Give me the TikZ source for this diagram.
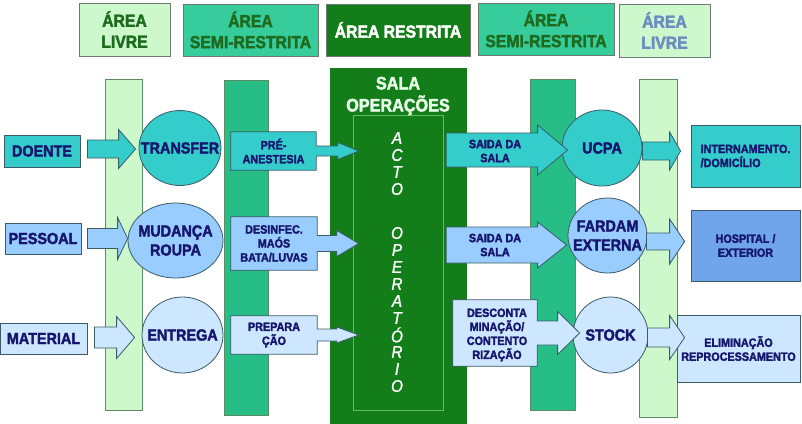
\documentclass[tikz,border=0pt]{standalone}
\usepackage{fontspec}
\setmainfont{Liberation Sans Bold}[FakeStretch=0.9, FakeBold=2.2]
\newfontfamily\italico{Liberation Sans Italic}[FakeStretch=0.9, FakeBold=1.5]
\usetikzlibrary{positioning}
\usetikzlibrary{calc}
\usetikzlibrary{shapes.geometric}

\definecolor{livre}{HTML}{CCF8CC}
\definecolor{semicol}{HTML}{26BE86}
\definecolor{semicab}{HTML}{36CC9C}
\definecolor{restrita}{HTML}{137D19}
\definecolor{turq}{HTML}{35CCCC}
\definecolor{azul}{HTML}{99CCFF}
\definecolor{azulesc}{HTML}{70A5EC}
\definecolor{azulcl}{HTML}{CCE7FF}
\definecolor{texto}{HTML}{16166E}
\definecolor{borda}{HTML}{3B5B66}
\definecolor{cabborda}{HTML}{6E7A70}
\definecolor{colborda}{HTML}{5E8A66}
\definecolor{verdetx}{HTML}{1E6B1E}
\definecolor{azultx}{HTML}{6A8CC0}
\definecolor{salalinha}{HTML}{5FBF5F}
\definecolor{salatx}{HTML}{EAFFEA}

\newcommand{\fbig}{\fontsize{16}{19}\selectfont}
\newcommand{\fsmall}{\fontsize{12}{14}\selectfont}
\newcommand{\fhead}{\fontsize{17.5}{21}\selectfont}

% block arrow: style, start, tip, shaft half, head half, head length
\newcommand{\blkarrow}[6]{%
\filldraw[#1] let \p1=(#2), \p2=(#3) in
 (\x1,\y1+#4pt) -- (\x2-#6pt,\y1+#4pt) -- (\x2-#6pt,\y1+#5pt) -- (\x2,\y1)
 -- (\x2-#6pt,\y1-#5pt) -- (\x2-#6pt,\y1-#4pt) -- (\x1,\y1-#4pt) -- cycle;}
% box with arrow: style, box node, tip, shaft half, head half, head length
\newcommand{\callout}[6]{%
\filldraw[#1] let \p1=(#2.east), \p2=(#3) in
 (#2.north west) -- (#2.north east) -- (\x1,\y1+#4pt) -- (\x2-#6pt,\y1+#4pt)
 -- (\x2-#6pt,\y1+#5pt) -- (\x2,\y1) -- (\x2-#6pt,\y1-#5pt) -- (\x2-#6pt,\y1-#4pt)
 -- (\x1,\y1-#4pt) -- (#2.south east) -- (#2.south west) -- cycle;}

\begin{document}
\begin{tikzpicture}[x=1pt, y=-1pt,
txtp/.style={text=texto, font=\fsmall, align=center, inner sep=0pt},
txtg/.style={text=texto, font=\fbig, align=center, inner sep=0pt},
caixa/.style={txtp, draw=borda, line width=0.8pt},
grande/.style={txtg, draw=borda, line width=0.8pt},
circulo/.style={ellipse, draw=borda, line width=0.8pt, inner sep=0pt},
coluna/.style={draw=colborda, line width=0.8pt, inner sep=0pt},
cabec/.style={draw=cabborda, line width=1pt, align=center, font=\fhead, inner sep=0pt},
seta/.style={draw=borda, line width=0.8pt},
letra/.style={text=white, font=\fontsize{17}{17}\selectfont\italico, inner sep=0pt}]

\useasboundingbox (0,0) rectangle (802,423);

% areas
\node[cabec, fill=livre, text=verdetx, minimum width=91, minimum height=53] (hlivre1) at (124.5,29.5) {ÁREA\\LIVRE};
\node[cabec, fill=semicab, text=verdetx, minimum width=135, minimum height=52] (hsemi1) at (250.5,30) {ÁREA\\SEMI-RESTRITA};
\node[cabec, fill=restrita, text=white, minimum width=144, minimum height=52] (hrestr) at (398,30) {ÁREA RESTRITA};
\node[cabec, fill=semicab, text=verdetx, minimum width=136, minimum height=52] (hsemi2) at (546,29) {ÁREA\\SEMI-RESTRITA};
\node[cabec, fill=livre, text=azultx, minimum width=91, minimum height=53] (hlivre2) at (664.5,30.5) {ÁREA\\LIVRE};

% colunas
\node[coluna, fill=livre, minimum width=37, minimum height=331] (clivre1) at (123.5,244.5) {};
\node[coluna, fill=semicol, minimum width=44, minimum height=335] (csemi1) at (246,247.5) {};
\node[coluna, fill=semicol, minimum width=45, minimum height=331] (csemi2) at (552.5,244.5) {};
\node[coluna, fill=livre, minimum width=38, minimum height=338] (clivre2) at (658,248) {};
\node[fill=restrita, inner sep=0pt, minimum width=137, minimum height=356] (sala) at (398.5,246) {};
\node[draw=salalinha, line width=0.6pt, inner sep=0pt, minimum width=90, minimum height=295] (acto) at (398,262.5) {};
\node[font=\fontsize{18}{22}\selectfont, text=salatx, align=center, inner sep=0pt] (salatx) at (398,96) {SALA\\OPERAÇÕES};
\foreach \l/\y in {A/138,C/155,T/172,O/189,O/233,P/250,E/267,R/284,A/301,T/318,Ó/335,R/352,I/369,O/386}
  \node[letra] (l\y) at (397,\y) {\l};

% entradas
\node[grande, fill=turq, minimum width=76, minimum height=32] (doente) at (42,151) {DOENTE};
\node[grande, fill=azul, minimum width=76, minimum height=31] (pessoal) at (43,238.5) {PESSOAL};
\node[grande, fill=azulcl, minimum width=87, minimum height=31] (material) at (43.5,338.5) {MATERIAL};

\node[circulo, fill=turq, minimum width=82, minimum height=75, label={[txtg]center:TRANSFER}] (transfer) at (180,148) {};
\node[circulo, fill=azul, minimum width=95, minimum height=75, label={[txtg]center:{MUDANÇA\\ROUPA}}] (mudanca) at (175.5,240.5) {};
\node[circulo, fill=azulcl, minimum width=81, minimum height=76, label={[txtg]center:ENTREGA}] (entrega) at (182.5,335) {};

% saidas
\node[circulo, fill=turq, minimum width=80, minimum height=76, label={[txtg]center:UCPA}] (ucpa) at (602,148) {};
\node[circulo, fill=azul, minimum width=79, minimum height=75, label={[txtg]center:{FARDAM\\EXTERNA}}] (fardam) at (607.5,235.5) {};
\node[circulo, fill=azulcl, minimum width=75, minimum height=76, label={[txtg]center:STOCK}] (stock) at (610.5,335) {};

\node[caixa, fill=turq, minimum width=109, minimum height=62, align=left] (intern) at (745.5,156) {INTERNAMENTO.\\/DOMICÍLIO};
\node[caixa, fill=azulesc, minimum width=109, minimum height=71] (hospital) at (745.5,245.5) {HOSPITAL /\\EXTERIOR};
\node[caixa, fill=azulcl, minimum width=123, minimum height=67] (elim) at (738.5,348.5) {ELIMINAÇÃO\\REPROCESSAMENTO};

% setas
\blkarrow{seta, fill=turq}{$(doente.east)+(7,-2)$}{$(transfer.west)+(-3,0)$}{9}{19.5}{17}
\blkarrow{seta, fill=azul}{$(pessoal.east)+(6,0)$}{mudanca.west}{10}{21}{10}
\blkarrow{seta, fill=azulcl}{$(material.east)+(7,-1)$}{$(entrega.west)+(-7,0)$}{10.5}{21}{18}

\node[inner sep=0pt, minimum width=85, minimum height=38] (pre) at (273.5,151) {};
\callout{seta, fill=turq}{pre}{$(sala.west |- pre)+(29,0)$}{5}{8.5}{21}
\node[txtp] (pretx) at (pre) {PRÉ-\\ANESTESIA};
\node[inner sep=0pt, minimum width=86, minimum height=53] (desinf) at (274,243.5) {};
\callout{seta, fill=azul}{desinf}{$(sala.west |- desinf)+(29,0)$}{8}{13}{22}
\node[txtp] (desinftx) at (desinf) {DESINFEC.\\MAÓS\\BATA/LUVAS};
\node[inner sep=0pt, minimum width=86, minimum height=38] (prepara) at (274,335) {};
\callout{seta, fill=azulcl}{prepara}{$(sala.west |- prepara)+(29,0)$}{6}{8}{22}
\node[txtp] (preparatx) at (prepara) {PREPARA\\ÇÃO};

\blkarrow{seta, fill=turq}{$(sala.east |- ucpa)+(-21,2)$}{$(ucpa.west)+(6,0)$}{17}{25}{30}
\node[txtp] (saida1) at (495,151) {SAIDA DA\\SALA};
\blkarrow{seta, fill=azul}{$(sala.east |- fardam)+(-21,9.5)$}{$(fardam.west)+(-1,0)$}{18}{23}{29}
\node[txtp] (saida2) at (495,245) {SAIDA DA\\SALA};
\node[inner sep=0pt, minimum width=84, minimum height=66] (descont) at (495,333) {};
\callout{seta, fill=azulcl}{descont}{$(stock.west)+(7,0)$}{12}{21.5}{22}
\node[txtp] (descontx) at ($(descont)+(2,2)$) {DESCONTA\\MINAÇÃO/\\CONTENTO\\RIZAÇÃO};

\blkarrow{seta, fill=turq}{$(ucpa.east)+(0,3)$}{$(intern.west)+(-10,0)$}{9}{19}{11}
\blkarrow{seta, fill=azul}{$(fardam.east)+(-1,6)$}{$(hospital.west)+(-6,0)$}{8.5}{22.5}{15}
\blkarrow{seta, fill=azulcl}{$(stock.east)+(-1,2.5)$}{$(elim.west)+(8,0)$}{9.5}{22}{15}
\end{tikzpicture}
\end{document}
